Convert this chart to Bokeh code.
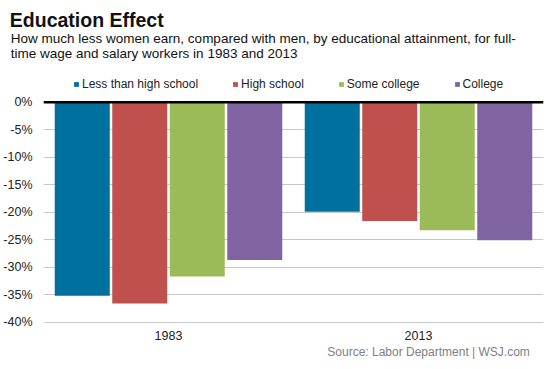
from bokeh.plotting import figure
from bokeh.models import (ColumnDataSource, FactorRange, Range1d, FixedTicker,
                          PrintfTickFormatter, Span, Legend, LegendItem, Title)
from bokeh.transform import dodge
from bokeh.embed import file_html
from bokeh.resources import INLINE

# ---- data ----
years = ["1983", "2013"]
categories = ["Less than high school", "High school", "Some college", "College"]
less_than_hs = [-35.2, -19.9]
high_school = [-36.6, -21.6]
some_college = [-31.7, -23.3]
college = [-28.7, -25.1]
y_ticks = [0, -5, -10, -15, -20, -25, -30, -35, -40]

title_text = "Education Effect"
subtitle_lines = ["How much less women earn, compared with men, by educational attainment, for full-",
                  "time wage and salary workers in 1983 and 2013"]
source_text = "Source: Labor Department  |  WSJ.com"

colors = ["#00709f", "#c0504d", "#9bbb59", "#8064a2"]
offsets = [-0.345, -0.115, 0.115, 0.345]
FONT = "Liberation Sans"

src = ColumnDataSource(dict(year=years, c0=less_than_hs, c1=high_school,
                            c2=some_college, c3=college))

p = figure(width=553, height=369, output_backend="svg", toolbar_location=None,
           title=None,
           x_range=FactorRange(*years), y_range=Range1d(-40.418, 7.218),
           min_border_left=42, min_border_right=10, min_border_top=62,
           min_border_bottom=45)
p.x_range.range_padding = 0
p.outline_line_color = None

renderers = []
for i, col in enumerate(["c0", "c1", "c2", "c3"]):
    r = p.vbar(x=dodge("year", offsets[i], range=p.x_range), top=col, bottom=0,
               width=0.22, source=src, fill_color=colors[i], line_color=None)
    renderers.append(r)

for ax in (p.xaxis, p.yaxis):
    ax.axis_line_color = None
    ax.major_tick_line_color = None
    ax.minor_tick_line_color = None
    ax.major_tick_out = 0
    ax.major_tick_in = 0
    ax.minor_tick_out = 0
    ax.minor_tick_in = 0
    ax.major_label_text_font = FONT
    ax.major_label_text_font_size = "12.5px"
    ax.major_label_text_color = "#222222"

p.yaxis.ticker = FixedTicker(ticks=y_ticks)
p.yaxis.formatter = PrintfTickFormatter(format="%d%%")
p.yaxis.major_label_standoff = 11
p.xaxis.major_label_standoff = 6

p.xgrid.grid_line_color = None
p.ygrid.ticker = FixedTicker(ticks=y_ticks)
p.ygrid.grid_line_color = "#c8c8c8"
p.ygrid.grid_line_width = 1

p.add_layout(Span(location=0, dimension="width", line_color="black", line_width=2.5))

legend = Legend(items=[LegendItem(label=categories[i], renderers=[renderers[i]]) for i in range(4)],
                orientation="horizontal", location=(30, 230),
                glyph_width=6, glyph_height=6, label_standoff=3, spacing=34,
                padding=0, margin=0, border_line_color=None, background_fill_alpha=0,
                label_text_font=FONT, label_text_font_size="12px",
                label_text_color="#222222", label_height=20)
p.add_layout(legend, "center")

# header titles (first added sits nearest the frame)
p.add_layout(Title(text="\n".join(subtitle_lines), align="left", offset=-32.7,
                   vertical_align="top", standoff=0, text_font=FONT,
                   text_font_size="13.5px", text_font_style="normal",
                   text_color="#111111", text_line_height=1.0), "above")
p.add_layout(Title(text=title_text, align="left", offset=-33.7,
                   vertical_align="bottom", standoff=0, text_font=FONT,
                   text_font_size="19.5px", text_font_style="bold",
                   text_color="#111111"), "above")

# source line below the category axis
p.add_layout(Title(text=source_text, align="right", offset=7,
                   vertical_align="top", standoff=5, text_font=FONT,
                   text_font_size="12px", text_font_style="normal",
                   text_color="#808080"), "below")

open("out.html", "w").write(file_html(p, INLINE))
